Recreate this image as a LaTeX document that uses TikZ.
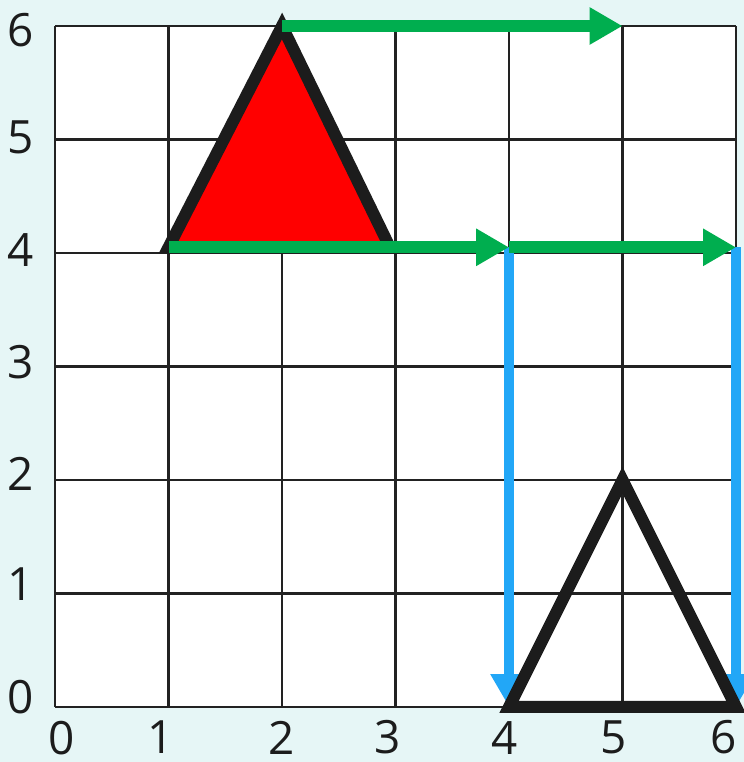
\documentclass[tikz,border=0pt]{standalone}
\usepackage{fontspec}
\setmainfont{Open Sans}
\usetikzlibrary{arrows.meta}
\definecolor{mintbg}{HTML}{E6F6F6}
\definecolor{gridink}{HTML}{222222}
\definecolor{shapeink}{HTML}{1C1C1C}
\definecolor{moveright}{HTML}{00AE4F}
\definecolor{movedown}{HTML}{22A7F7}
\definecolor{shapefill}{HTML}{FF0000}

\begin{document}
\begin{tikzpicture}[
  gridline/.style={draw=gridink, line width=0.6pt},
  axislabel/.style={font=\fontsize{11.5}{13}\selectfont, text=shapeink, inner sep=0pt},
  shapeline/.style={draw=shapeink, line width=3pt, line join=miter},
  rightmove/.style={-{Triangle[length=0.29cm, width=0.31cm]}, moveright, line width=3pt},
  downmove/.style={-{Triangle[length=0.29cm, width=0.31cm]}, movedown, line width=2.6pt}]
  \fill[mintbg] (-0.485,-0.485) rectangle (6.070,6.229);
  \useasboundingbox (-0.485,-0.485) rectangle (6.070,6.229);
  \fill[white] (0,0) rectangle (6,6);
  \foreach \k in {0,...,6} {
    \draw[gridline] (\k,0) -- (\k,6);
    \draw[gridline] (0,\k) -- (6,\k);
  }
  % axis numbers, set where the picture prints them
  \foreach \k/\xpos in {0/0.06,1/0.93,2/2,3/2.93,4/3.96,5/4.92,6/5.89}
    \node[axislabel] (x\k) at (\xpos,-0.27) {\k};
  \foreach \k/\ypos in {0/0.09,1/1.08,2/2.05,3/3.04,4/4.03,5/5.02,6/5.96}
    \node[axislabel] (y\k) at (-0.3,\ypos) {\k};
  % red triangle and its image
  \coordinate (A) at (1,4.05); \coordinate (B) at (2,6); \coordinate (C) at (2.95,4.05);
  \coordinate (P) at (4,0); \coordinate (Q) at (5,2); \coordinate (R) at (6,0);
  % arrow ends
  \coordinate (D) at (4,4.05); \coordinate (E) at (6,4.05); \coordinate (F) at (5,6);
  \draw[shapeline, fill=shapefill] (A) -- (B) -- (C) -- cycle;
  \draw[downmove] (D) -- (P); \draw[downmove] (E) -- (R);
  \draw[rightmove] (B) -- (F); \draw[rightmove] (A) -- (D); \draw[rightmove] (D) -- (E);
  \draw[shapeline] (P) -- (Q) -- (R) -- cycle;
\end{tikzpicture}
\end{document}
